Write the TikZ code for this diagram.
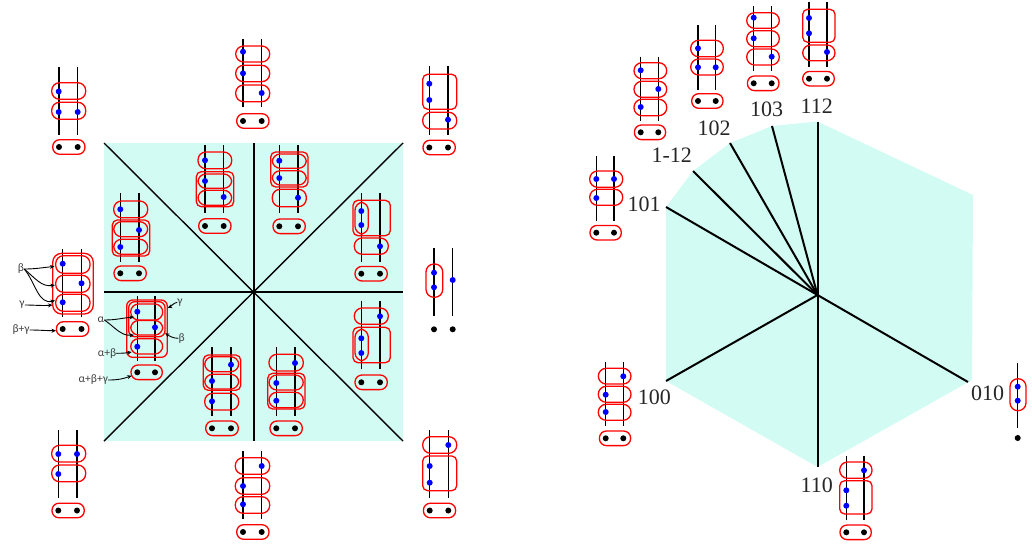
\documentclass[tikz,border=0pt]{standalone}
\usepackage{fontspec}
\setmainfont{Liberation Serif}
\newfontfamily\smallfont{Carlito}
\usetikzlibrary{arrows.meta,calc}
\definecolor{wedgecol}{HTML}{D2FBF3}
\definecolor{notecol}{HTML}{404040}
\tikzset{
	rail/.style={black,line width=1.4pt},
	wall/.style={black,line width=1.4pt},
	wallb/.style={black,line width=2pt},
	pill/.style={draw=red,line width=1.3pt,rounded corners=7.9pt},
	boxr/.style={draw=red,line width=1.3pt,rounded corners=5pt},
	root/.style={fill=blue},
	bead/.style={fill=black},
	wlabel/.style={font=\fontsize{22}{22}\selectfont,inner sep=0pt,text=black!85},
	note/.style={font=\smallfont\fontsize{11.5}{11.5}\selectfont,inner sep=0pt,text=notecol},
	noteline/.style={black,line width=.9pt,-{Stealth[length=4.5pt,width=4pt]}}
}
\newcommand{\Rails}[4]{\draw[rail] (#1,#3) -- (#1,#4) (#2,#3) -- (#2,#4);}
\newcommand{\Pills}[3]{\foreach \a/\b in {#3} {\draw[pill] (#1,\a) rectangle (#2,\b);}}
\newcommand{\Boxr}[4]{\draw[boxr] (#1,#2) rectangle (#3,#4);}
\newcommand{\Roots}[1]{\foreach \a/\b in {#1} {\fill[root] (\a,\b) circle (3pt);}}
\newcommand{\Base}[3]{
	\draw[pill,rounded corners=7pt] (#1-6.3,#3-7.3) rectangle (#2+7.3,#3+7.3);
	\fill[bead] (#1,#3) circle (3pt) (#2,#3) circle (3pt);}
\begin{document}
\begin{tikzpicture}[x=1pt,y=-1pt]
	\useasboundingbox (0,0) rectangle (1032,544);
	% square chamber
	\coordinate (sqA) at (104,143);
	\coordinate (sqB) at (403,143);
	\coordinate (sqC) at (403,441);
	\coordinate (sqD) at (104,441);
	\coordinate (sqO) at (254,292);
	\fill[wedgecol] (sqA) -- (sqB) -- (sqC) -- (sqD) -- cycle;
	\draw[wall] (sqA) -- (sqC) (sqB) -- (sqD);
	\draw[wall] (104,292) -- (403,292) (254,143) -- (254,441);
	% hexagon
	\coordinate (hxO) at (817.5,295);
	\coordinate (hxa) at (666,207);
	\coordinate (hxb) at (693,171);
	\coordinate (hxc) at (730,143);
	\coordinate (hxd) at (772,126);
	\coordinate (hxe) at (817.5,121.5);
	\coordinate (hxf) at (973,195);
	\coordinate (hxg) at (972,380);
	\coordinate (hxh) at (817.5,467);
	\coordinate (hxi) at (666,381);
	\fill[wedgecol] (hxa) -- (hxb) -- (hxc) -- (hxd) -- (hxe) -- (hxf) -- (hxg) -- (hxh) -- (hxi) -- cycle;
	\foreach \p in {hxa,hxb,hxc,hxd,hxe,hxh,hxi} {\draw[wallb] (hxO) -- (\p);}
	\draw[wallb] (hxO) -- (968,382);

	% left part, outside
	\Rails{59}{77.7}{67}{135}
	\Pills{51.7}{85.7}{82.7/99.3,102.3/119.3}
	\Roots{58.7/91.5,58.7/112,77.7/112}
	\Base{59}{77.7}{147}

	\Rails{243}{261.7}{39}{107}
	\Pills{235.7}{269.7}{46/62,65.3/81.7,85/101.7}
	\Roots{243/51.7,243/73.3,261.7/93}
	\Base{243}{261.7}{121}

	\Rails{429.3}{448}{66}{134.7}
	\Boxr{422.7}{74.3}{456.7}{109.3}
	\Pills{422.7}{456.7}{112.3/129}
	\Roots{429.3/83.7,429.3/100,448/119.7}
	\Base{429.3}{448}{147.5}

	\Rails{434}{452.7}{248.3}{316}
	\draw[pill] (426,264) rectangle (442.7,297.3);
	\Roots{434/272.7,434/287.3,452.7/280}
	\fill[bead] (434,329.3) circle (3pt) (452.7,329.3) circle (3pt);

	\Rails{429.7}{448.3}{430}{497.7}
	\Pills{422.7}{456.7}{436.7/453.3}
	\Boxr{422.7}{456}{456.7}{490.7}
	\Roots{448.3/445,429.7/466,429.7/482.7}
	\Base{429.7}{448.3}{510.5}

	\Rails{243}{261.7}{451}{519}
	\Pills{235.3}{269.7}{457.7/474.3,477.7/494.3,496.7/513.3}
	\Roots{261.7/466,243/486,243/504.3}
	\Base{243}{261.7}{532}

	\Rails{58.3}{77}{430}{497.7}
	\Pills{51.7}{85.7}{445.3/462,465/481.7}
	\Roots{58.3/454,77/454,58.3/474}
	\Base{58.3}{77}{510.5}

	\Rails{62.7}{81.5}{249.3}{317.3}
	\Pills{55.7}{90}{255.7/273.3,275.3/292.3,294.3/311.3}
	\draw[boxr,rounded corners=9pt] (52.7,253.3) rectangle (93.3,314);
	\Roots{62.7/263.7,81.5/283.3,62.7/302.3}
	\Base{62.7}{81.5}{329}

	% square, inner ones
	\Rails{137.3}{155}{296}{360.7}
	\Pills{130.7}{162.7}{304/320,320.5/335,338.7/354}
	\draw[boxr,rounded corners=6pt] (128.7,301.7) rectangle (165,336.7);
	\draw[boxr,rounded corners=6pt] (126.7,300) rectangle (167.3,357.3);
	\Roots{137.3/311.7,155/327.3,137.3/346.7}
	\Base{137.3}{155}{372.3}

	\Rails{120.3}{139}{193.3}{261.7}
	\Pills{113.7}{147.7}{201/217.7,221.7/236.7,239.3/254.3}
	\Boxr{112.3}{220}{149.7}{256}
	\Roots{120.3/209.3,139/230,120.3/247}
	\Base{120.3}{139}{273.3}

	\Rails{205}{223.7}{145}{212.7}
	\Pills{198}{231.7}{152/168.7,174/188.3,190.3/205.3}
	\Boxr{196.3}{171.7}{233.7}{206.7}
	\Roots{205/160.3,205/181,223.7/197}
	\Base{205}{223.7}{226}

	\Rails{279.3}{298}{145}{212.7}
	\Pills{272.3}{306.3}{154/168.3,170.7/185,189.3/206.7}
	\Boxr{270.7}{152}{308}{187}
	\Roots{279.3/160.7,279.3/178,298/197.7}
	\Base{279.3}{298}{226.3}

	\Rails{361.3}{380}{193.3}{261.7}
	\draw[pill] (355,202.3) rectangle (368.3,234);
	\Boxr{353}{200.3}{390.3}{235.7}
	\Pills{354.3}{388.3}{238/254.3}
	\Roots{361.3/211,361.3/225,380/246.3}
	\Base{361.3}{380}{273.7}

	\Rails{361.3}{380}{300.7}{368.7}
	\Pills{354.3}{388.3}{308/324.3}
	\draw[pill] (355,329.3) rectangle (368.3,360.7);
	\Boxr{353}{327.3}{390.3}{362.7}
	\Roots{380/316.3,361.3/338.3,361.3/353}
	\Base{361.3}{380}{382.3}

	\Rails{212}{231}{347.3}{415.7}
	\Pills{204.7}{238.7}{356.7/371.7,374.3/389,393.3/410}
	\Boxr{203.3}{355}{240.7}{390.3}
	\Roots{231/364.7,212/381,212/401.3}
	\Base{212}{231}{428.3}

	\Rails{276.3}{295}{347.3}{415.7}
	\Pills{269}{303.3}{354.3/371,375/390,392.3/407.7}
	\Boxr{267.7}{373.3}{305}{409}
	\Roots{295/363,276.3/383,276.3/400.7}
	\Base{276.3}{295}{428.3}

	% right part
	\Rails{596.3}{614}{156}{220.7}
	\Pills{589.7}{622.7}{171/187.3,189.3/205.3}
	\Roots{596.3/179,614/179,596.3/198}
	\Base{596.3}{614}{232.7}

	\Rails{640.7}{658.3}{56.7}{120.7}
	\Pills{634}{666.7}{62.7/78.7,81.3/97.3,99.3/115.7}
	\Roots{640.7/70.3,658.3/89,640.7/107}
	\Base{640.7}{658.3}{132.3}

	\Rails{698}{715.7}{25.3}{90}
	\Pills{690.7}{723.3}{40.3/56.7,59/75}
	\Roots{698/48.3,698/67.3,715.7/67.3}
	\Base{698}{715.7}{101}

	\Rails{753.7}{771.7}{6}{70.7}
	\Pills{746.7}{779.3}{12.7/28.3,30.7/46.7,49/65}
	\Roots{753.7/17.7,753.7/38.3,771.7/56.7}
	\Base{753.7}{771.7}{83.3}

	\Rails{809}{827}{2}{66.7}
	\Boxr{802.7}{9.3}{835}{42.3}
	\Pills{802.7}{835}{45/60.7}
	\Roots{809/18,809/33.3,827/52}
	\Base{809}{827}{78.7}

	\Rails{605.7}{623.3}{361.7}{426}
	\Pills{598.3}{631}{368.3/384,386.3/402.3,404.3/420.3}
	\Roots{623.3/376.3,605.7/394.7,605.7/412}
	\Base{605.7}{623.3}{438.3}

	\Rails{846.3}{864}{455.7}{520}
	\Pills{839.7}{872}{462/478.3}
	\Boxr{839.7}{480.7}{872}{514}
	\Roots{864/470.3,846.3/490.3,846.3/505.7}
	\Base{846.3}{864}{532.3}

	\draw[rail] (1017.7,363.3) -- (1017.7,428);
	\draw[pill] (1010,378.7) rectangle (1026,410.7);
	\Roots{1017.7/386.7,1017.7/400.7}
	\fill[bead] (1017.7,438) circle (3pt);

	% names of the walls
	\node[wlabel] (lab112) at (816.7,106) {112};
	\node[wlabel] (lab103) at (766.7,109) {103};
	\node[wlabel] (lab102) at (714,128) {102};
	\node[wlabel] (lab1m12) at (671.7,155.7) {1-12};
	\node[wlabel] (lab101) at (644,204) {101};
	\node[wlabel] (lab100) at (654.3,397.7) {100};
	\node[wlabel] (lab110) at (816.7,485) {110};
	\node[wlabel] (lab010) at (987.7,393.3) {010};

	% notes with arrows
	\node[note] (noteBa) at (21,269) {β};
	\node[note] (noteGa) at (22,305) {γ};
	\node[note] (noteBGa) at (21,330) {β+γ};
	\node[note] (noteAb) at (101,320) {α};
	\node[note] (noteABb) at (107,353.3) {α+β};
	\node[note] (noteABGb) at (93.3,380) {α+β+γ};
	\node[note] (noteGb) at (180,302.3) {γ};
	\node[note] (noteBb) at (181.7,338.3) {β};
	\coordinate (tipBa) at (54.5,266.5);
	\coordinate (tipBb) at (55,285);
	\coordinate (tipBc) at (55,300.5);
	\coordinate (tipGa) at (52.5,305);
	\coordinate (tipBGa) at (56,330.7);
	\coordinate (tipAa) at (134,317);
	\coordinate (tipAb) at (134,335);
	\coordinate (tipABb) at (131.7,352);
	\coordinate (tipABGb) at (131.7,375.7);
	\coordinate (tipGb) at (167.7,307.7);
	\coordinate (tipBbb) at (165,333.3);
	\draw[noteline] (noteBa.east) to[out=0,in=185] (tipBa);
	\draw[noteline] (noteBa.east) to[out=-40,in=190] (tipBb);
	\draw[noteline] (noteBa.east) to[out=-50,in=195] (tipBc);
	\draw[noteline] (noteGa.east) to[out=0,in=185] (tipGa);
	\draw[noteline] (noteBGa.east) to[out=0,in=180] (tipBGa);
	\draw[noteline] (noteAb.east) to[out=0,in=185] (tipAa);
	\draw[noteline] (noteAb.east) to[out=-35,in=185] (tipAb);
	\draw[noteline] (noteABb.east) to[out=0,in=190] (tipABb);
	\draw[noteline] (noteABGb.east) to[out=0,in=200] (tipABGb);
	\draw[noteline] (noteGb.west) to[out=190,in=20] (tipGb);
	\draw[noteline] (noteBb.west) to[out=180,in=-30] (tipBbb);
\end{tikzpicture}
\end{document}
